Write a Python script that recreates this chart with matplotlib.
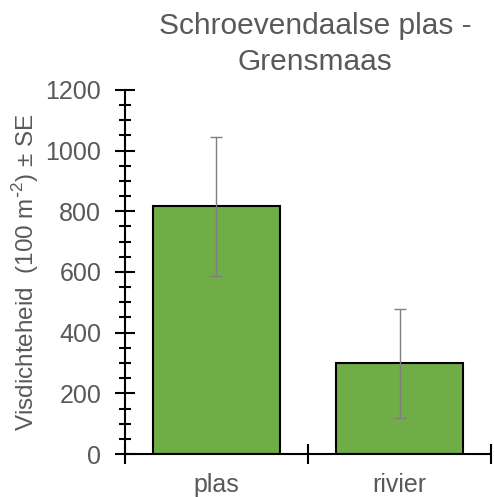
import matplotlib.pyplot as plt
from matplotlib.ticker import MultipleLocator, FixedLocator

categories = ['plas', 'rivier']
density = [816, 299]
se = [229, 179]

plt.rcParams['font.family'] = ['Liberation Sans', 'DejaVu Sans']
grey = '#595959'

fig = plt.figure(figsize=(4.94, 4.97), dpi=100)
ax = fig.add_axes([0.253, 0.0865, 0.741, 0.7325])

x = range(len(categories))
ax.bar(x, density, width=0.69, color='#70AD47', edgecolor='black', linewidth=1.5,
       yerr=se, error_kw=dict(ecolor='#7f7f7f', elinewidth=1, capsize=4, capthick=1))

ax.set_xlim(-0.5, len(categories) - 0.5)
ax.set_ylim(0, 1200)
ax.set_xticks(list(x))
ax.set_xticklabels(categories)
ax.xaxis.set_minor_locator(FixedLocator([-0.5, 0.5, 1.5]))
ax.yaxis.set_major_locator(MultipleLocator(200))
ax.yaxis.set_minor_locator(MultipleLocator(50))

ax.tick_params(axis='x', which='major', length=0, pad=14, labelsize=18, labelcolor=grey)
ax.tick_params(axis='x', which='minor', direction='inout', length=14, width=1.5)
ax.tick_params(axis='y', which='major', direction='inout', length=14, width=1.5,
               labelsize=18, labelcolor=grey, pad=10)
ax.tick_params(axis='y', which='minor', direction='inout', length=8, width=1.5)

for s in ['top', 'right']:
    ax.spines[s].set_visible(False)
for s in ['left', 'bottom']:
    ax.spines[s].set_linewidth(1.5)

ax.set_ylabel('Visdichteheid  (100 m$^{\\mathregular{\\text{-}2}}$) ± SE', fontsize=17.5,
              color=grey, labelpad=3)
fig.text(0.638, 0.848, 'Schroevendaalse plas -\nGrensmaas', fontsize=21.5, color=grey,
         ha='center', va='bottom', linespacing=1.35)

fig.savefig('out.png', dpi=100)
